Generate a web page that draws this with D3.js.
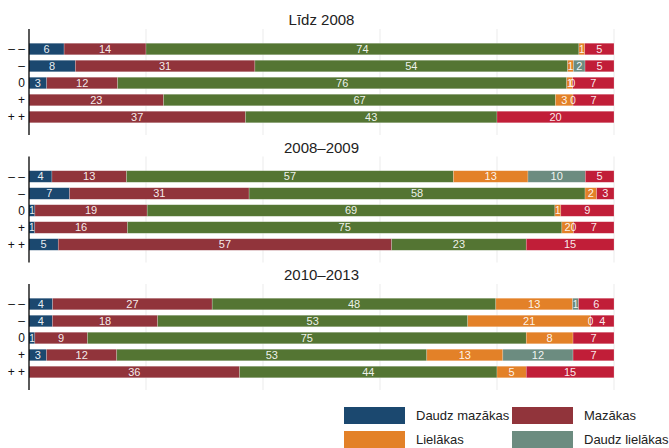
<!DOCTYPE html>
<html><head><meta charset="utf-8">
<script src="https://cdn.jsdelivr.net/npm/d3@7"></script>
<style>body{margin:0;background:#fff}svg{display:block}</style>
</head><body>
<script>
const panels = ["Līdz 2008", "2008–2009", "2010–2013"];
const rows = ["– –", "–", "0", "+", "+ +"];
const seriesNames = ["Daudz mazākas", "Mazākas", "Nemainīgas", "Lielākas", "Daudz lielākas", "Grūti pateikt"];
const colors = ["#1b486f", "#91343b", "#547533", "#e38128", "#6c8c80", "#c11e38"];
// values per panel, per row: [daudz mazākas, mazākas, nemainīgas, lielākas, daudz lielākas, grūti pateikt]
const panel1 = [
  [6, 14, 74, 1, null, 5],
  [8, 31, 54, 1, 2, 5],
  [3, 12, 76, 1, 0, 7],
  [null, 23, 67, 3, 0, 7],
  [null, 37, 43, null, null, 20]
];
const panel2 = [
  [4, 13, 57, 13, 10, 5],
  [7, 31, 58, 2, null, 3],
  [1, 19, 69, 1, null, 9],
  [1, 16, 75, 2, 0, 7],
  [5, 57, 23, null, null, 15]
];
const panel3 = [
  [4, 27, 48, 13, 1, 6],
  [4, 18, 53, 21, 0, 4],
  [1, 9, 75, 8, null, 7],
  [3, 12, 53, 13, 12, 7],
  [null, 36, 44, 5, null, 15]
];
const panelData = [panel1, panel2, panel3];
const xTicks = [0, 0.2, 0.4, 0.6, 0.8, 1];
const legendItems = [0, 1, 3, 4];

const W = 669, H = 448;
const svg = d3.select("body").append("svg").attr("width", W).attr("height", H);
const x = d3.scaleLinear().domain([0, 1]).range([29, 614]);
const panelStep = 127.5;
const font = "Liberation Sans, Arial, sans-serif";

panels.forEach((title, pi) => {
  const off = pi * panelStep;
  const g = svg.append("g");
  const axTop = 29 + off, axBot = 135 + off;
  const y = d3.scaleBand().domain(rows).range([40.5 + off, 125.5 + off]).paddingInner(0.32).paddingOuter(0.16);
  g.selectAll("line.grid").data(xTicks.slice(1)).join("line")
    .attr("x1", d => x(d)).attr("x2", d => x(d))
    .attr("y1", axTop).attr("y2", axBot)
    .attr("stroke", "#ebebeb").attr("stroke-width", 1);
  g.append("text").attr("x", x(0.5)).attr("y", 20 + off).attr("dy", "0.35em")
    .attr("text-anchor", "middle").attr("font-family", font).attr("font-size", 15)
    .attr("fill", "#222").text(title);
  const data = panelData[pi];
  data.forEach((vals, ri) => {
    const total = d3.sum(vals, v => v || 0);
    let cum = 0;
    vals.forEach((v, si) => {
      if (v === null) return;
      const x0 = cum / total, x1 = (cum + v) / total;
      cum += v;
      const yy = y(rows[ri]);
      g.append("rect").attr("x", x(x0)).attr("y", yy)
        .attr("width", Math.max(0, x(x1) - x(x0))).attr("height", y.bandwidth())
        .attr("fill", colors[si]).attr("stroke", "#fff").attr("stroke-opacity", 0.35).attr("stroke-width", 0.6);
    });
    cum = 0;
    vals.forEach((v, si) => {
      if (v === null) return;
      const x0 = cum / total, x1 = (cum + v) / total;
      cum += v;
      const narrow = (x(x1) - x(x0)) < 7;
      g.append("text").attr("x", x((x0 + x1) / 2)).attr("y", y(rows[ri]) + y.bandwidth() / 2)
        .attr("dy", "0.36em").attr("text-anchor", "middle")
        .attr("font-family", font).attr("font-size", narrow ? 10 : 11).attr("fill", "#fff").attr("fill-opacity", 0.92)
        .text(v);
    });
  });
  g.selectAll("text.yl").data(rows).join("text")
    .attr("x", 25).attr("y", d => y(d) + y.bandwidth() / 2).attr("dy", "0.35em")
    .attr("text-anchor", "end").attr("font-family", font).attr("font-size", 12).attr("fill", "#111")
    .text(d => d);
  g.append("line").attr("x1", 29).attr("x2", 29).attr("y1", axTop).attr("y2", axBot)
    .attr("stroke", "#000").attr("stroke-width", 1.3);
});

const lg = svg.append("g");
legendItems.forEach((si, i) => {
  const col = i % 2, row = Math.floor(i / 2);
  const lx = 344 + col * 168, ly = 407 + row * 24;
  lg.append("rect").attr("x", lx).attr("y", ly).attr("width", 61).attr("height", 17).attr("fill", colors[si]);
  lg.append("text").attr("x", lx + 72).attr("y", ly + 8.5).attr("dy", "0.35em")
    .attr("font-family", font).attr("font-size", 13).attr("fill", "#222").text(seriesNames[si]);
});
</script>
</body></html>
